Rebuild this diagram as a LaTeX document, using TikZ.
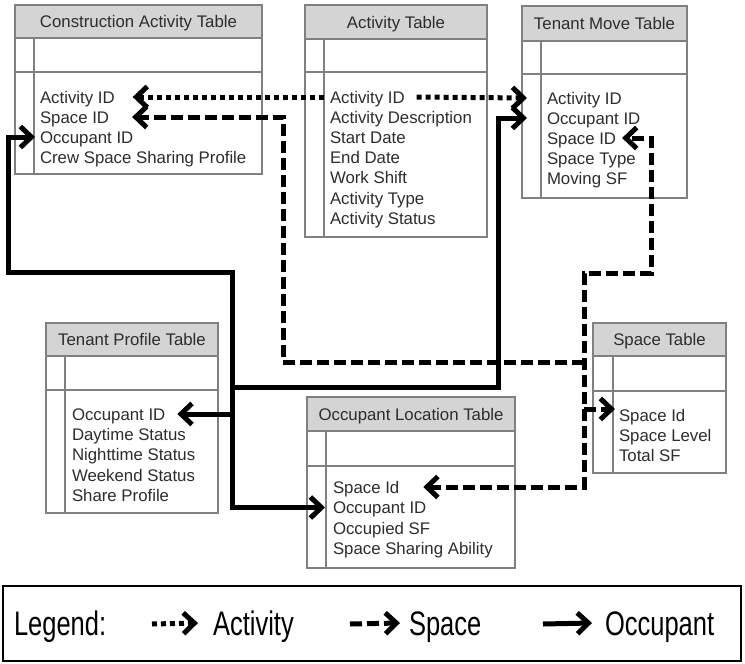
\documentclass[tikz,border=0pt]{standalone}
\usepackage{fontspec}
\setmainfont{Liberation Sans}
\newfontfamily\legendfont[FakeStretch=0.75]{Liberation Sans}
\usetikzlibrary{arrows.meta,calc}

\definecolor{tblborder}{RGB}{128,128,128}
\definecolor{tblhead}{RGB}{212,212,212}
\definecolor{tbltext}{RGB}{45,45,45}

\tikzset{
  barb/.tip={Straight Barb[length=11pt,width=21pt,line width=5pt]},
  tblframe/.style={draw=tblborder,line width=1.2pt},
  headtxt/.style={font=\fontsize{16.8}{20}\selectfont,text=tbltext,
    text height=12pt,text depth=0pt},
  fieldtxt/.style={headtxt,anchor=west},
  legendtxt/.style={font=\legendfont\fontsize{34}{40}\selectfont,
    text height=24pt,text depth=0pt,anchor=west},
  link/.style={draw=black,line width=5pt,-barb},
  activity/.style={link,dash pattern=on 5pt off 4pt},
  space/.style={link,dash pattern=on 12pt off 5pt},
  occupant/.style={link}
}

\begin{document}
\begin{tikzpicture}[y=1pt, x=1pt, yscale=-1, inner sep=0pt, outer sep=0pt]
  \useasboundingbox (0,0) rectangle (745,664);

  \path[tblframe,fill=tblhead] (15,5) rectangle (262,38);
  \path[tblframe,fill=white] (15,38) rectangle (262,174);
  \path[tblframe] (15,72) -- (262,72) (34,38) -- (34,174);
  \node[headtxt] (ca-title) at (138.5,21.5) {Construction Activity Table};
  \node[fieldtxt] (ca-act) at (40,97) {Activity ID};
  \node[fieldtxt] (ca-sid) at (40,117) {Space ID};
  \node[fieldtxt] (ca-occ) at (40,137) {Occupant ID};
  \node[fieldtxt] (ca-crew) at (40,157) {Crew Space Sharing Profile};

  \path[tblframe,fill=tblhead] (305,5) rectangle (487,39);
  \path[tblframe,fill=white] (305,39) rectangle (487,237);
  \path[tblframe] (305,72) -- (487,72) (324,39) -- (324,237);
  \node[headtxt] (at-title) at (396,22) {Activity Table};
  \node[fieldtxt] (at-act) at (330,97) {Activity ID};
  \node[fieldtxt] (at-desc) at (330,117.2) {Activity Description};
  \node[fieldtxt] (at-start) at (330,137.4) {Start Date};
  \node[fieldtxt] (at-end) at (330,157.6) {End Date};
  \node[fieldtxt] (at-shift) at (330,177.8) {Work Shift};
  \node[fieldtxt] (at-type) at (330,198) {Activity Type};
  \node[fieldtxt] (at-status) at (330,218.2) {Activity Status};

  \path[tblframe,fill=tblhead] (522,6) rectangle (687,41);
  \path[tblframe,fill=white] (522,41) rectangle (687,198);
  \path[tblframe] (522,74) -- (687,74) (541,41) -- (541,198);
  \node[headtxt] (tm-title) at (604.5,23.5) {Tenant Move Table};
  \node[fieldtxt] (tm-act) at (547,98) {Activity ID};
  \node[fieldtxt] (tm-occ) at (547,118) {Occupant ID};
  \node[fieldtxt] (tm-sid) at (547,138) {Space ID};
  \node[fieldtxt] (tm-type) at (547,158) {Space Type};
  \node[fieldtxt] (tm-sf) at (547,178) {Moving SF};

  \path[tblframe,fill=tblhead] (46,323) rectangle (218,356);
  \path[tblframe,fill=white] (46,356) rectangle (218,513);
  \path[tblframe] (46,390) -- (218,390) (65,356) -- (65,513);
  \node[headtxt] (tp-title) at (132,339.5) {Tenant Profile Table};
  \node[fieldtxt] (tp-occ) at (72,414) {Occupant ID};
  \node[fieldtxt] (tp-day) at (72,434) {Daytime Status};
  \node[fieldtxt] (tp-night) at (72,454.5) {Nighttime Status};
  \node[fieldtxt] (tp-week) at (72,475) {Weekend Status};
  \node[fieldtxt] (tp-share) at (72,495) {Share Profile};

  \path[tblframe,fill=tblhead] (307,397) rectangle (515,431);
  \path[tblframe,fill=white] (307,431) rectangle (515,568);
  \path[tblframe] (307,466) -- (515,466) (326,431) -- (326,568);
  \node[headtxt] (ol-title) at (411,414) {Occupant Location Table};
  \node[fieldtxt] (ol-sid) at (333,487) {Space Id};
  \node[fieldtxt] (ol-occ) at (333,507.5) {Occupant ID};
  \node[fieldtxt] (ol-sf) at (333,528) {Occupied SF};
  \node[fieldtxt] (ol-ability) at (333,548) {Space Sharing Ability};

  \path[tblframe,fill=tblhead] (593,323) rectangle (726,356);
  \path[tblframe,fill=white] (593,356) rectangle (726,473);
  \path[tblframe] (593,391) -- (726,391) (613,356) -- (613,473);
  \node[headtxt] (st-title) at (659.5,339.5) {Space Table};
  \node[fieldtxt] (st-sid) at (619,415) {Space Id};
  \node[fieldtxt] (st-level) at (619,435) {Space Level};
  \node[fieldtxt] (st-sf) at (619,455) {Total SF};

  \coordinate (sp-n) at (584,273);
  \coordinate (sp-e) at (651,273);
  \coordinate (sp-m) at (584,362);
  \coordinate (sp-w) at (283,362);
  \coordinate (st-in) at (584,409);
  \coordinate (st-tip) at (615,409);
  \coordinate (oc-n) at (232,272);
  \coordinate (oc-w) at (8,272);
  \coordinate (oc-m) at (232,387);
  \coordinate (oc-e) at (498,387);

  \path[activity] ([xshift=-6pt]at-act.west) -- ([xshift=18pt]ca-act.east);
  \path[activity] ([xshift=12pt]at-act.east) -- ([xshift=-20pt]tm-act.west);

  \path[space,barb-barb] ([xshift=24pt]ol-sid.east) -- (sp-n |- ol-sid) --
    (sp-n) -- (sp-e) |- ([xshift=6pt]tm-sid.east);
  \path[space] (sp-m) -- (sp-w) |- ([xshift=23pt]ca-sid.east);
  \path[space] (st-in) -- (st-tip);

  \path[occupant,barb-barb] ([xshift=-8pt]ol-occ.west) -- (oc-n |- ol-occ) --
    (oc-n) -- (oc-w) |- ([xshift=-5pt]ca-occ.west);
  \path[occupant] (oc-n |- tp-occ) -- ([xshift=12pt]tp-occ.east);
  \path[occupant] (oc-m) -- (oc-e) |- ([xshift=-20pt]tm-occ.west);

  \path[draw=black,line width=2.5pt] (3,586) rectangle (741,661);
  \node[legendtxt] (lg-title) at (14,623) {Legend:};
  \node[legendtxt] (lg-act) at (213,623) {Activity};
  \node[legendtxt] (lg-sp) at (409,623) {Space};
  \node[legendtxt] (lg-occ) at (605,623) {Occupant};
  \coordinate (lg-act-tail) at (152,624);
  \coordinate (lg-sp-tail) at (350,624);
  \coordinate (lg-occ-tail) at (543,624);
  \path[activity] (lg-act-tail) -- ([xshift=-15pt]lg-act.west);
  \path[space] (lg-sp-tail) -- ([xshift=-9pt]lg-sp.west);
  \path[occupant] (lg-occ-tail) -- ([xshift=-13pt]lg-occ.west);

\end{tikzpicture}
\end{document}
